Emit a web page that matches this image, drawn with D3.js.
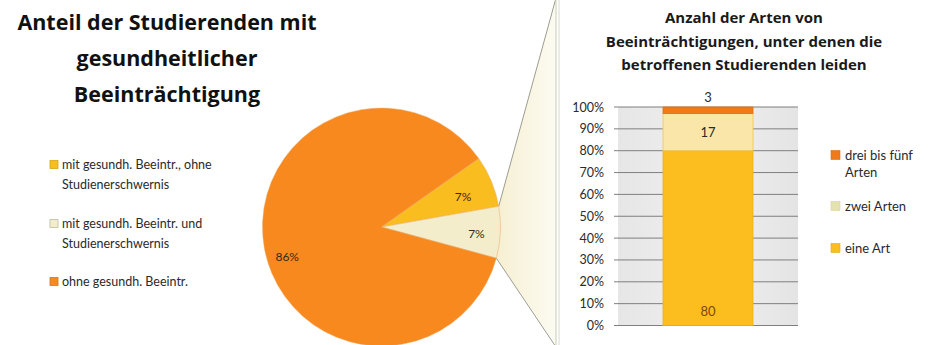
<!DOCTYPE html>
<html><head><meta charset="utf-8">
<script src="https://cdn.jsdelivr.net/npm/d3@7"></script>
<style>body{margin:0;background:#fff;}svg{display:block;font-family:Lato,"Open Sans",sans-serif;}</style>
</head><body>
<script>
// ---- data ----
const pieCategories = ["mit gesundh. Beeintr., ohne Studienerschwernis", "mit gesundh. Beeintr. und Studienerschwernis", "ohne gesundh. Beeintr."];
const pieValues = [7, 7, 86];
const pieLabels = ["7%", "7%", "86%"];
const barCategory = ["Beeinträchtigte"];
const barSeries = ["eine Art", "zwei Arten", "drei bis fünf Arten"];
const barValues = [80, 17, 3];
const yTicks = [0,10,20,30,40,50,60,70,80,90,100];
const leftTitle = ["Anteil der Studierenden mit", "gesundheitlicher", "Beeinträchtigung"];
const rightTitle = ["Anzahl der Arten von", "Beeinträchtigungen, unter denen die", "betroffenen Studierenden leiden"];
const pieLegendLines = [["mit gesundh. Beeintr., ohne", "Studienerschwernis"], ["mit gesundh. Beeintr. und", "Studienerschwernis"], ["ohne gesundh. Beeintr."]];
const barLegendLines = [["drei bis fünf", "Arten"], ["zwei Arten"], ["eine Art"]];

const pieColors = ["#F9BD1F", "#F3EDCB", "#F7891E"];
const barColors = ["#FBBE1E", "#F9E6A8", "#F07A18"];

const W = 930, H = 345;
const svg = d3.select("body").append("svg").attr("width", W).attr("height", H);

const defs = svg.append("defs");
const grad = defs.append("linearGradient").attr("id","conn").attr("x1","0").attr("x2","1").attr("y1","0").attr("y2","0");
grad.append("stop").attr("offset","0").attr("stop-color","#F6EFD2");
grad.append("stop").attr("offset","1").attr("stop-color","#FDFBF2");
const bgGrad = defs.append("linearGradient").attr("id","plotbg").attr("x1","0").attr("x2","1").attr("y1","0").attr("y2","0");
bgGrad.append("stop").attr("offset","0").attr("stop-color","#E6E6E6");
bgGrad.append("stop").attr("offset","0.5").attr("stop-color","#F0F0F0");
bgGrad.append("stop").attr("offset","1").attr("stop-color","#E4E4E4");

// ---- left title ----
svg.append("g").selectAll("text").data(leftTitle).join("text")
  .attr("x", 167).attr("y", (d,i) => 30 + i*36)
  .attr("text-anchor","middle").attr("font-size", 21.5).attr("font-weight","bold").attr("fill","#111")
  .attr("font-family","'Open Sans', sans-serif")
  .text(d => d);

// ---- pie ----
const cx = 381.5, cy = 227, R = 119;
const startA = 54.8 * Math.PI/180;
const pie = d3.pie().sort(null).startAngle(startA).endAngle(startA + 2*Math.PI);
const arcs = pie(pieValues);
const arc = d3.arc().innerRadius(0).outerRadius(R);

// connector from the beige slice to the bar chart box
const b = arcs[1];
const p1 = [cx + R*Math.sin(b.startAngle), cy - R*Math.cos(b.startAngle)];
const p2 = [cx + R*Math.sin(b.endAngle), cy - R*Math.cos(b.endAngle)];
const boxX = 556;
svg.append("path")
  .attr("d", `M${p1[0]},${p1[1]} L${boxX},0 L${boxX},${H} L${p2[0]},${p2[1]} Z`)
  .attr("fill","url(#conn)");
svg.append("line").attr("x1",p1[0]).attr("y1",p1[1]).attr("x2",boxX).attr("y2",-2).attr("stroke","#9c9c90").attr("stroke-width",1);
svg.append("line").attr("x1",p2[0]).attr("y1",p2[1]).attr("x2",boxX).attr("y2",H+2).attr("stroke","#9c9c90").attr("stroke-width",1);

const pg = svg.append("g").attr("transform", `translate(${cx},${cy})`);
pg.selectAll("path").data(arcs).join("path")
  .attr("d", arc).attr("fill", (d,i) => pieColors[i])
  .attr("stroke", "#EBA862").attr("stroke-width", 0.5);
const labelRadius = [0.73, 0.80, 0.83];
const labelShift = [2.4, 1.6, -7.3];
pg.selectAll("text").data(arcs).join("text")
  .attr("x", (d,i) => {const a=(d.startAngle+d.endAngle)/2 + labelShift[i]*Math.PI/180; return R*labelRadius[i]*Math.sin(a);})
  .attr("y", (d,i) => {const a=(d.startAngle+d.endAngle)/2 + labelShift[i]*Math.PI/180; return -R*labelRadius[i]*Math.cos(a);})
  .attr("dy","0.35em").attr("text-anchor","middle").attr("font-size",12).attr("fill","#3b2a12")
  .text((d,i) => pieLabels[i]);

// ---- pie legend ----
const pl = svg.append("g");
const plY = [165, 224, 282];
pieLegendLines.forEach((lines, i) => {
  pl.append("rect").attr("x", 50).attr("y", plY[i]-4.5).attr("width", 8).attr("height", 8)
    .attr("fill", pieColors[i]).attr("stroke", i===1 ? "#B9BFA0" : d3.color(pieColors[i]).darker(0.4)).attr("stroke-width",0.8);
  lines.forEach((t, j) => {
    pl.append("text").attr("x", 62).attr("y", plY[i] + j*19.5).attr("dy","0.35em")
      .attr("font-size", 12.5).attr("fill","#2a2a2a").text(t);
  });
});

// ---- bar chart box ----
svg.append("rect").attr("x", boxX).attr("y", -1).attr("width", W - boxX + 2).attr("height", H + 2)
  .attr("fill","#fff").attr("stroke","#C9CBB8").attr("stroke-width",1);
svg.append("line").attr("x1", boxX+3).attr("x2", boxX+3).attr("y1",0).attr("y2",H).attr("stroke","#D8DACB").attr("stroke-width",1);

svg.append("g").selectAll("text").data(rightTitle).join("text")
  .attr("x", 744).attr("y", (d,i) => 23 + i*23.5)
  .attr("text-anchor","middle").attr("font-size",15).attr("font-weight","bold").attr("fill","#1a1a1a")
  .attr("font-family","'Open Sans', sans-serif")
  .text(d => d);

const plotL = 618, plotR = 798, plotT = 107, plotB = 325.5;
const y = d3.scaleLinear().domain([0,100]).range([plotB, plotT]);
const x = d3.scaleBand().domain(barCategory).range([plotL, plotR]).paddingInner(0.5).paddingOuter(0.25);

svg.append("rect").attr("x",plotL).attr("y",plotT).attr("width",plotR-plotL).attr("height",plotB-plotT).attr("fill","url(#plotbg)");

const yAxis = d3.axisLeft(y).tickValues(yTicks).tickFormat(d => d + "%").tickSize(0).tickPadding(14);
const ya = svg.append("g").attr("transform", `translate(${plotL},0)`).call(yAxis);
ya.select(".domain").remove();
ya.selectAll("text").attr("font-size",12.5).attr("fill","#2a2a2a").attr("font-family","Lato, sans-serif");
svg.append("g").selectAll("line").data(yTicks).join("line")
  .attr("x1", plotL-4).attr("x2", plotR).attr("y1", d => y(d)).attr("y2", d => y(d))
  .attr("stroke","#7f7f7f").attr("stroke-width",1);

const stackData = [Object.fromEntries([["cat", barCategory[0]], ...barSeries.map((s,i)=>[s, barValues[i]])])];
const stacked = d3.stack().keys(barSeries)(stackData);
const bg = svg.append("g");
stacked.forEach((layer, i) => {
  layer.forEach(d => {
    bg.append("rect").attr("x", x(d.data.cat)).attr("width", x.bandwidth())
      .attr("y", y(d[1])).attr("height", y(d[0]) - y(d[1]))
      .attr("fill", barColors[i]).attr("stroke", i===1 ? "#F3C64A" : d3.color(barColors[i]).darker(0.2)).attr("stroke-width",0.8);
    let ly, col = "#2a2a2a";
    if (i === 0) { ly = y(d[0]) - 14; col = "#7a4b06"; }
    else if (i === 1) { ly = (y(d[0]) + y(d[1]))/2; }
    else { ly = y(d[1]) - 10; }
    bg.append("text").attr("x", x(d.data.cat) + x.bandwidth()/2).attr("y", ly).attr("dy","0.35em")
      .attr("text-anchor","middle").attr("font-size",13).attr("fill",col).text(barValues[i]);
  });
});

// ---- bar legend ----
const bl = svg.append("g");
const blY = [155, 206, 248];
const legColorIdx = [2, 1, 0];
barLegendLines.forEach((lines, i) => {
  const c = barColors[legColorIdx[i]];
  bl.append("rect").attr("x", 831).attr("y", blY[i]-4.5).attr("width", 9).attr("height", 9)
    .attr("fill", i===1 ? "#E3E3B0" : c).attr("stroke", d3.color(c).darker(0.3)).attr("stroke-width",0.6);
  lines.forEach((t, j) => {
    bl.append("text").attr("x", 845).attr("y", blY[i] + j*17.5).attr("dy","0.35em")
      .attr("font-size", 13).attr("fill","#2a2a2a").text(t);
  });
});
</script>
</body></html>
